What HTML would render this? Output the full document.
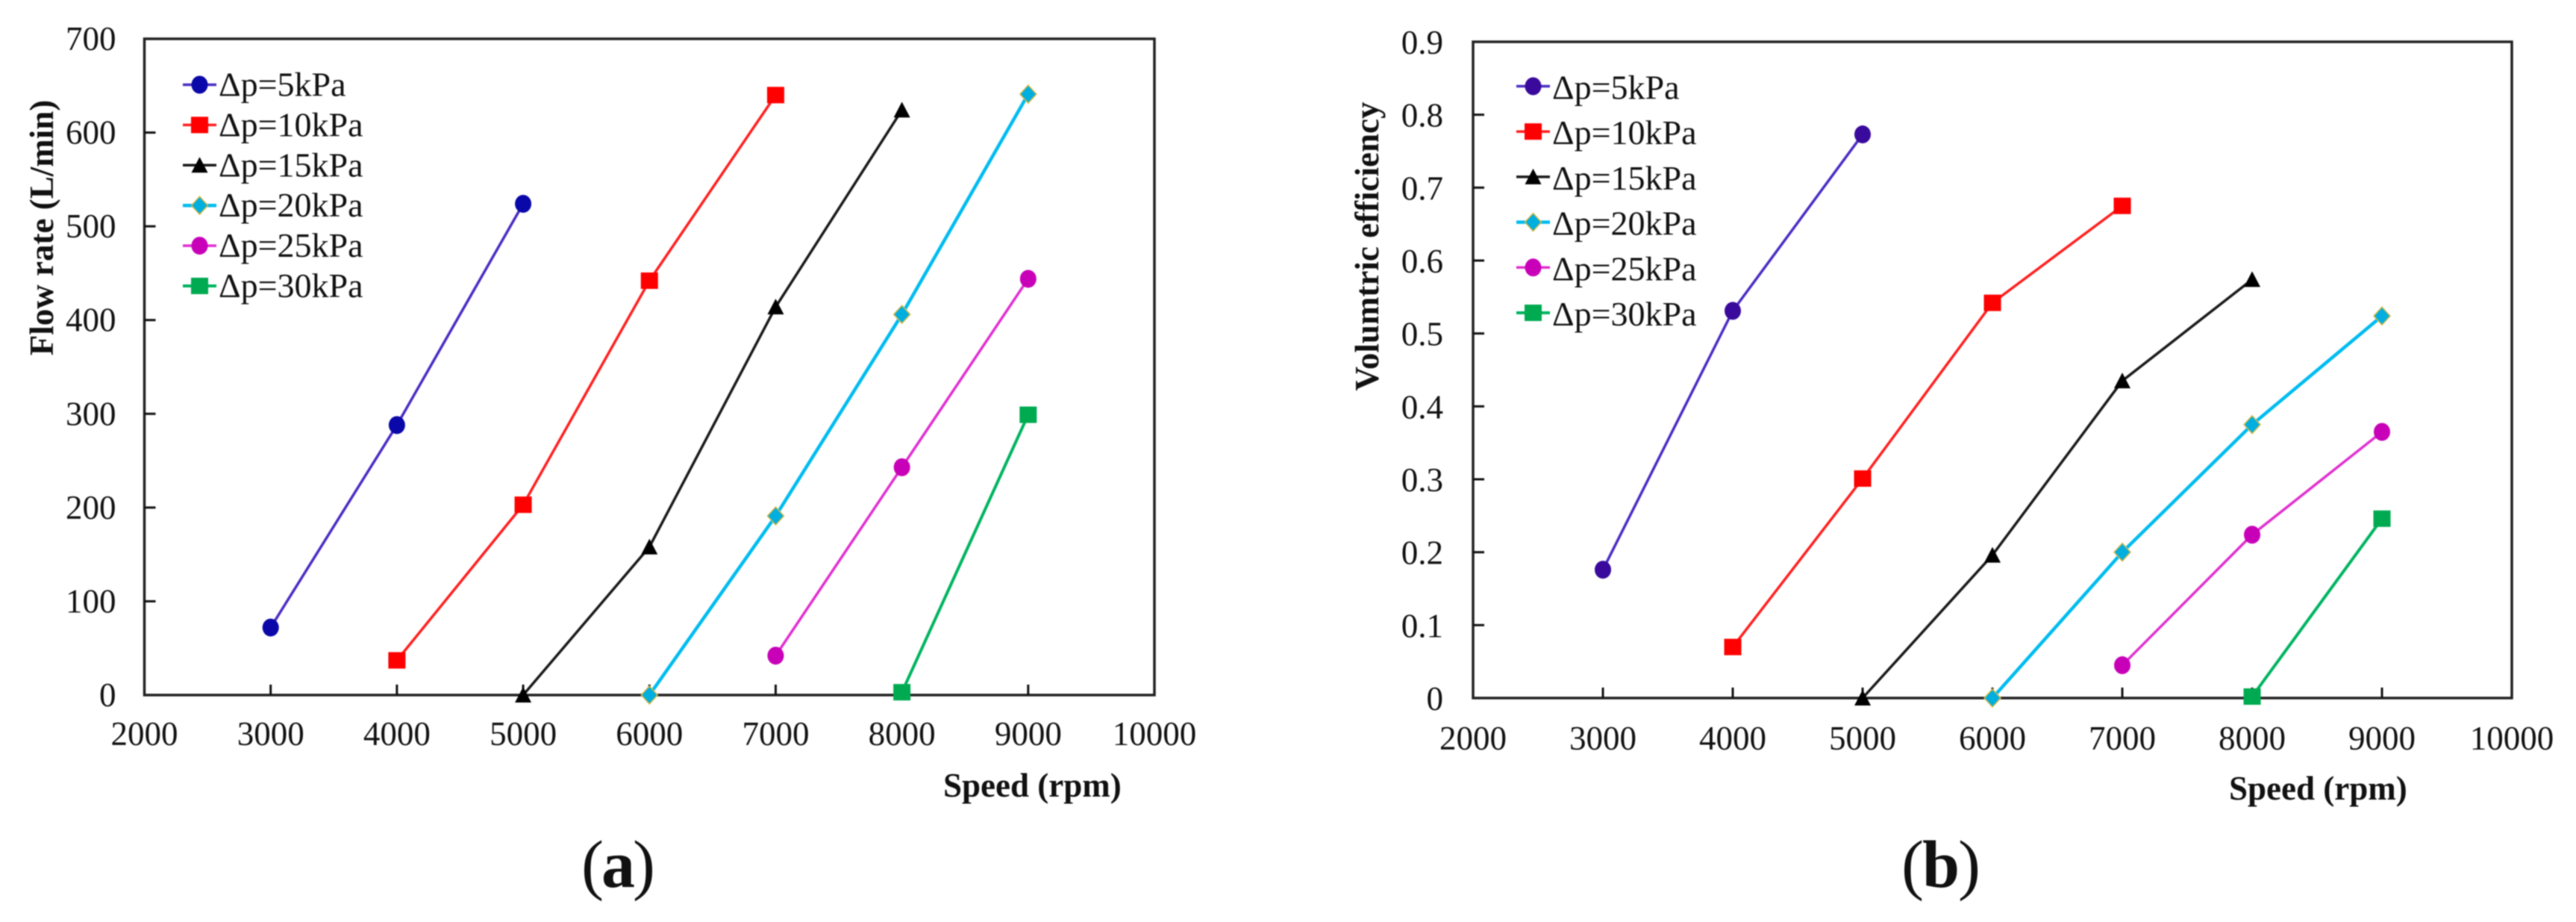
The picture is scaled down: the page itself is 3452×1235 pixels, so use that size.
<!DOCTYPE html>
<html lang="en">
<head>
<meta charset="utf-8">
<title>Flow rate and volumetric efficiency versus speed</title>
<style>
  html, body { margin: 0; padding: 0; background: #fff; }
  #figure { display: block; width: 3452px; height: 1235px; filter: blur(0.7px); }
  text { font-family: "Liberation Serif", serif; fill: #111; }
</style>
</head>
<body>
<svg id="figure" xmlns="http://www.w3.org/2000/svg" width="3452" height="1235" viewBox="0 0 3452 1235"></svg>
<script>
// Shared axis ticks
const speedTicks = [2000, 3000, 4000, 5000, 6000, 7000, 8000, 9000, 10000];
const flowTicks = [0, 100, 200, 300, 400, 500, 600, 700];
const efficiencyTicks = [0, 0.1, 0.2, 0.3, 0.4, 0.5, 0.6, 0.7, 0.8, 0.9];

// Series labels
const seriesLabels = ["Δp=5kPa", "Δp=10kPa", "Δp=15kPa", "Δp=20kPa", "Δp=25kPa", "Δp=30kPa"];

// Speeds per series
const speeds5kPa = [3000, 4000, 5000];
const speeds10kPa = [4000, 5000, 6000, 7000];
const speeds15kPa = [5000, 6000, 7000, 8000];
const speeds20kPa = [6000, 7000, 8000, 9000];
const speeds25kPa = [7000, 8000, 9000];
const speeds30kPa = [8000, 9000];

// Panel (a): flow rate, L/min
const flow5kPa = [72, 288, 524];
const flow10kPa = [37, 203, 442, 640];
const flow15kPa = [0, 158, 414, 624];
const flow20kPa = [0, 191, 406, 641];
const flow25kPa = [42, 243, 444];
const flow30kPa = [3, 299];

// Panel (b): volumetric efficiency
const eff5kPa = [0.176, 0.531, 0.773];
const eff10kPa = [0.07, 0.301, 0.542, 0.675];
const eff15kPa = [0, 0.196, 0.435, 0.574];
const eff20kPa = [0, 0.2, 0.375, 0.524];
const eff25kPa = [0.045, 0.224, 0.365];
const eff30kPa = [0.002, 0.246];

const allSpeeds = [speeds5kPa, speeds10kPa, speeds15kPa, speeds20kPa, speeds25kPa, speeds30kPa];
const flowSeries = [flow5kPa, flow10kPa, flow15kPa, flow20kPa, flow25kPa, flow30kPa];
const effSeries = [eff5kPa, eff10kPa, eff15kPa, eff20kPa, eff25kPa, eff30kPa];

const lineColors = ["#4a2cc4", "#ff2020", "#1a1a1a", "#00bcf0", "#e030d0", "#00b460"];
const lineWidths = [3.5, 3.5, 3.5, 4.5, 3.5, 4];
const markerShapes = ["circle", "square", "triangle", "diamond", "circle", "square"];
const markerSlugs = ["5kpa", "10kpa", "15kpa", "20kpa", "25kpa", "30kpa"];

const SVG_NS = "http://www.w3.org/2000/svg";
const root = document.getElementById("figure");

function make(tag, attrs, parent) {
  const node = document.createElementNS(SVG_NS, tag);
  for (const key in attrs) node.setAttribute(key, attrs[key]);
  parent.appendChild(node);
  return node;
}

function drawMarker(parent, shape, cx, cy, fill, edge) {
  let m;
  if (shape === "circle") {
    m = make("ellipse", { cx: cx, cy: cy, rx: 11, ry: 12, fill: fill }, parent);
  } else if (shape === "square") {
    m = make("rect", { x: cx - 11.5, y: cy - 11, width: 23, height: 22, fill: fill }, parent);
  } else if (shape === "triangle") {
    m = make("polygon", { points: (cx) + "," + (cy - 11) + " " + (cx + 11) + "," + (cy + 10) + " " + (cx - 11) + "," + (cy + 10), fill: fill }, parent);
  } else {
    m = make("polygon", { points: (cx) + "," + (cy - 12) + " " + (cx + 11) + "," + (cy) + " " + (cx) + "," + (cy + 12) + " " + (cx - 11) + "," + (cy), fill: fill, stroke: edge, "stroke-width": 1.5 }, parent);
  }
  return m;
}

function drawPanel(p) {
  const g = make("g", {}, root);
  
  

  const xOf = function (v) { return p.left + (v - 2000) / 8000 * (p.right - p.left); };
  const yOf = function (v) { return p.bottom - v / p.yMax * (p.bottom - p.top); };

  const frame = make("rect", { x: p.left, y: p.top, width: p.right - p.left, height: p.bottom - p.top, fill: "none", stroke: "#222", "stroke-width": 3.5 }, g);
  
  

  p.yTicks.forEach(function (v) {
    const y = yOf(v);
    if (v > 0 && v < p.yMax) {
      const tick = make("line", { x1: p.left, x2: p.left + 15, y1: y, y2: y, stroke: "#111", "stroke-width": 3 }, g);
      
      
    }
    const label = make("text", { x: p.left - p.yLabelGap, y: y + p.yLabelDrop, "text-anchor": "end", "font-size": 45 }, g);
    label.textContent = String(v);
    
    
  });

  speedTicks.forEach(function (v) {
    const x = xOf(v);
    if (v > 2000 && v < 10000) {
      const tick = make("line", { x1: x, x2: x, y1: p.bottom, y2: p.bottom - 14, stroke: "#111", "stroke-width": 3 }, g);
      
      
    }
    const label = make("text", { x: x, y: p.xLabelY, "text-anchor": "middle", "font-size": 45 }, g);
    label.textContent = String(v);
    
    
  });

  p.series.forEach(function (vals, i) {
    const xs = allSpeeds[i];
    const sg = make("g", {}, g);
    
    
    const pts = vals.map(function (v, j) { return xOf(xs[j]) + "," + yOf(v); }).join(" ");
    const line = make("polyline", { points: pts, fill: "none", stroke: lineColors[i], "stroke-width": lineWidths[i] }, sg);
    
    
    vals.forEach(function (v, j) {
      const mark = drawMarker(sg, markerShapes[i], xOf(xs[j]), yOf(v), p.markerColors[i], "#d8b840");
      
      
    });
  });

  const legend = make("g", {}, g);
  
  
  seriesLabels.forEach(function (text, i) {
    const y = p.legendY + i * p.legendStep;
    const entry = make("g", {}, legend);
    
    
    const ln = make("line", { x1: p.legendX, x2: p.legendX + 45, y1: y, y2: y, stroke: lineColors[i], "stroke-width": lineWidths[i] }, entry);
    
    
    const mk = drawMarker(entry, markerShapes[i], p.legendX + 22.5, y, p.markerColors[i], "#d8b840");
    
    
    const t = make("text", { x: p.legendX + 48, y: y + p.legendDrop, "font-size": 46 }, entry);
    t.textContent = text;
    
    
  });

  const xTitle = make("text", { x: p.xTitleX, y: p.xTitleY, "font-size": 45, "font-weight": "bold" }, g);
  xTitle.textContent = "Speed (rpm)";
  
  

  const yTitle = make("text", { x: 0, y: 0, "font-size": 45, "font-weight": "bold", "text-anchor": "middle", transform: "translate(" + p.yTitleX + " " + p.yTitleY + ") rotate(-90)" }, g);
  yTitle.textContent = p.yTitle;
  
  

  const cap = make("text", { x: p.capX, y: 1188, "font-size": 90, "text-anchor": "middle", "letter-spacing": p.capSpacing, fill: "#000" }, g);
  
  
  const c1 = make("tspan", {}, cap);
  c1.textContent = "(";
  const c2 = make("tspan", { "font-weight": "bold" }, cap);
  c2.textContent = p.capLetter;
  const c3 = make("tspan", {}, cap);
  c3.textContent = ")";
}

drawPanel({
  name: "flow-rate-chart",
  left: 193.5, right: 1547, top: 52, bottom: 931, yMax: 700,
  yTicks: flowTicks, series: flowSeries,
  markerColors: ["#0a08a8", "#ff0000", "#000000", "#00aee0", "#c800b8", "#00aa50"],
  yLabelGap: 38, yLabelDrop: 15, xLabelY: 998,
  legendX: 245, legendY: 113.5, legendStep: 53.9, legendDrop: 15,
  xTitleX: 1264, xTitleY: 1067,
  yTitle: "Flow rate (L/min)", yTitleX: 71, yTitleY: 305,
  capX: 827, capLetter: "a", capSpacing: -3
});

drawPanel({
  name: "volumetric-efficiency-chart",
  left: 1974, right: 3366, top: 56, bottom: 935, yMax: 0.9,
  yTicks: efficiencyTicks, series: effSeries,
  markerColors: ["#3a0a9c", "#ff0000", "#000000", "#00aee0", "#c800b8", "#00aa50"],
  yLabelGap: 40, yLabelDrop: 16, xLabelY: 1004,
  legendX: 2032, legendY: 115.5, legendStep: 60.7, legendDrop: 17,
  xTitleX: 2987, xTitleY: 1071,
  yTitle: "Volumtric efficiency", yTitleX: 1847, yTitleY: 330,
  capX: 2600, capLetter: "b", capSpacing: -2
});
</script>
</body>
</html>
